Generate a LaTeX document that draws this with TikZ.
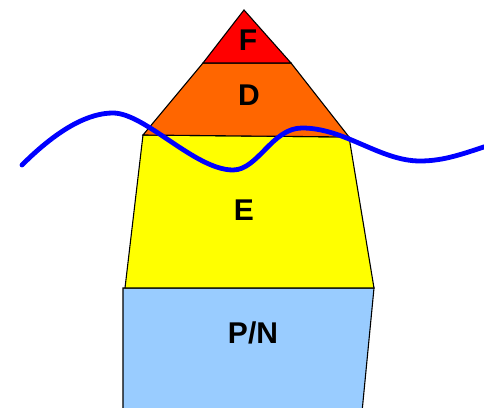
\documentclass[tikz,border=0pt]{standalone}
\usepackage{fontspec}
\setsansfont{Liberation Sans}
\usepackage{xcolor}
\usepackage{tikz}
\definecolor{layerF}{RGB}{255,0,0}
\definecolor{layerD}{RGB}{255,102,0}
\definecolor{layerE}{RGB}{255,255,0}
\definecolor{layerPN}{RGB}{153,204,255}
\definecolor{waveblue}{RGB}{0,0,255}
\tikzset{
  layer/.style={
    draw=black,
    line width=1.1pt,
    line join=miter,
    fill=#1
  },
  tag/.style={
    font=\sffamily\bfseries\fontsize{30}{30}\selectfont,
    inner sep=0pt
  },
  wave/.style={
    draw=waveblue,
    line width=4.8pt,
    line cap=round
  }
}
\begin{document}
\begin{tikzpicture}[x=1pt, y=1pt]
  \useasboundingbox (0,0) rectangle (484,407);
  % layers, bottom to top
  \draw[layer=layerPN] (123,-5) -- (123,119) -- (374,119) -- (362,-5);
  \draw[layer=layerE] (143,272) -- (349,270) -- (374,119) -- (125,119) -- cycle;
  \draw[layer=layerD] (203,344) -- (291,344) -- (349,270) -- (143,272) -- cycle;
  \draw[layer=layerF] (244,397) -- (291,344) -- (203,344) -- cycle;
  % labels
  \node[tag] (F) at (248,367) {F};
  \node[tag] (D) at (249,312) {D};
  \node[tag] (E) at (244,197) {E};
  \node[tag] (PN) at (253,74) {P/N};
  % blue line across
  \draw[wave] (22,242) .. controls (60,280) and (90,294) .. (113,294)
    .. controls (145,294) and (195,237) .. (233,237)
    .. controls (258,237) and (272,279) .. (302,279)
    .. controls (345,279) and (380,246) .. (420,246)
    .. controls (445,246) and (465,254) .. (490,262);
\end{tikzpicture}
\end{document}
